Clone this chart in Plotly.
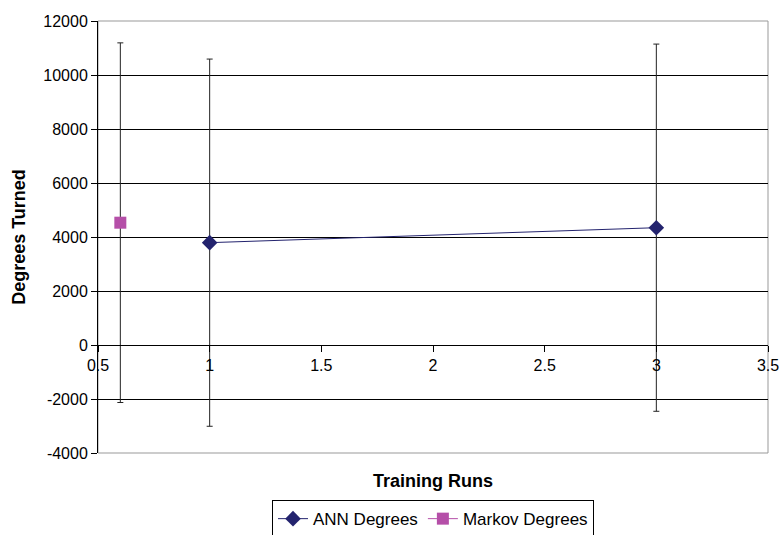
import plotly.graph_objects as go

ann_x = [1, 3]
ann_y = [3790, 4345]
ann_err = [6800, 6800]

markov_x = [0.6]
markov_y = [4530]
markov_err = [6660]

x_ticks = [0.5, 1, 1.5, 2, 2.5, 3, 3.5]
x_tick_labels = ["0.5", "1", "1.5", "2", "2.5", "3", "3.5"]
y_ticks = [-4000, -2000, 0, 2000, 4000, 6000, 8000, 10000, 12000]
y_tick_labels = ["-4000", "-2000", "0", "2000", "4000", "6000", "8000", "10000", "12000"]

fig = go.Figure()
fig.add_trace(go.Scatter(
    x=ann_x, y=ann_y, name="ANN Degrees", mode="lines+markers",
    line=dict(color="#23236E", width=1),
    marker=dict(symbol="diamond", size=12, color="#23236E"),
    error_y=dict(type="data", array=ann_err, visible=True, color="#222222", thickness=1, width=3),
))
fig.add_trace(go.Scatter(
    x=markov_x, y=markov_y, name="Markov Degrees", mode="lines+markers",
    line=dict(color="#B54FA8", width=1),
    marker=dict(symbol="square", size=12, color="#B54FA8"),
    error_y=dict(type="data", array=markov_err, visible=True, color="#222222", thickness=1, width=3),
))

fig.update_layout(
    width=782, height=535,
    margin=dict(l=98, r=14, t=21, b=82, autoexpand=False),
    paper_bgcolor="white", plot_bgcolor="white",
    font=dict(family="Liberation Sans, Arial, sans-serif", size=16, color="black"),
    showlegend=True,
    legend=dict(orientation="h", x=0.5, xanchor="center", y=-0.153, yanchor="middle",
                bordercolor="black", borderwidth=1, font=dict(size=17),
                itemwidth=30, tracegroupgap=0),
    xaxis=dict(range=[0.5, 3.5], tickvals=x_ticks, ticktext=x_tick_labels,
               showgrid=False, zeroline=False, showline=True, linecolor="black", linewidth=1,
               ticks="outside", ticklen=6, tickcolor="black", ticklabeloverflow="allow",
               anchor="free", position=0.25, tickfont=dict(size=16)),
    yaxis=dict(range=[-4000, 12000], tickvals=y_ticks, ticktext=y_tick_labels, domain=[0, 1],
               showgrid=True, gridcolor="black", gridwidth=1, zeroline=False,
               showline=True, linecolor="black", linewidth=1,
               ticks="outside", ticklen=6, tickcolor="black", tickfont=dict(size=16),
               title=dict(text="<b>Degrees Turned</b>", font=dict(size=18), standoff=12)),
    shapes=[dict(type="rect", xref="paper", yref="paper", x0=0, x1=1, y0=0, y1=1,
                 line=dict(color="#999999", width=1), layer="below")],
    annotations=[dict(text="<b>Training Runs</b>", xref="paper", yref="paper",
                      x=0.5, y=-0.065, xanchor="center", yanchor="middle",
                      showarrow=False, font=dict(size=18))],
)

fig.write_html("out.html", config={"displayModeBar": False},
               post_script="document.body.style.margin='0px';")
